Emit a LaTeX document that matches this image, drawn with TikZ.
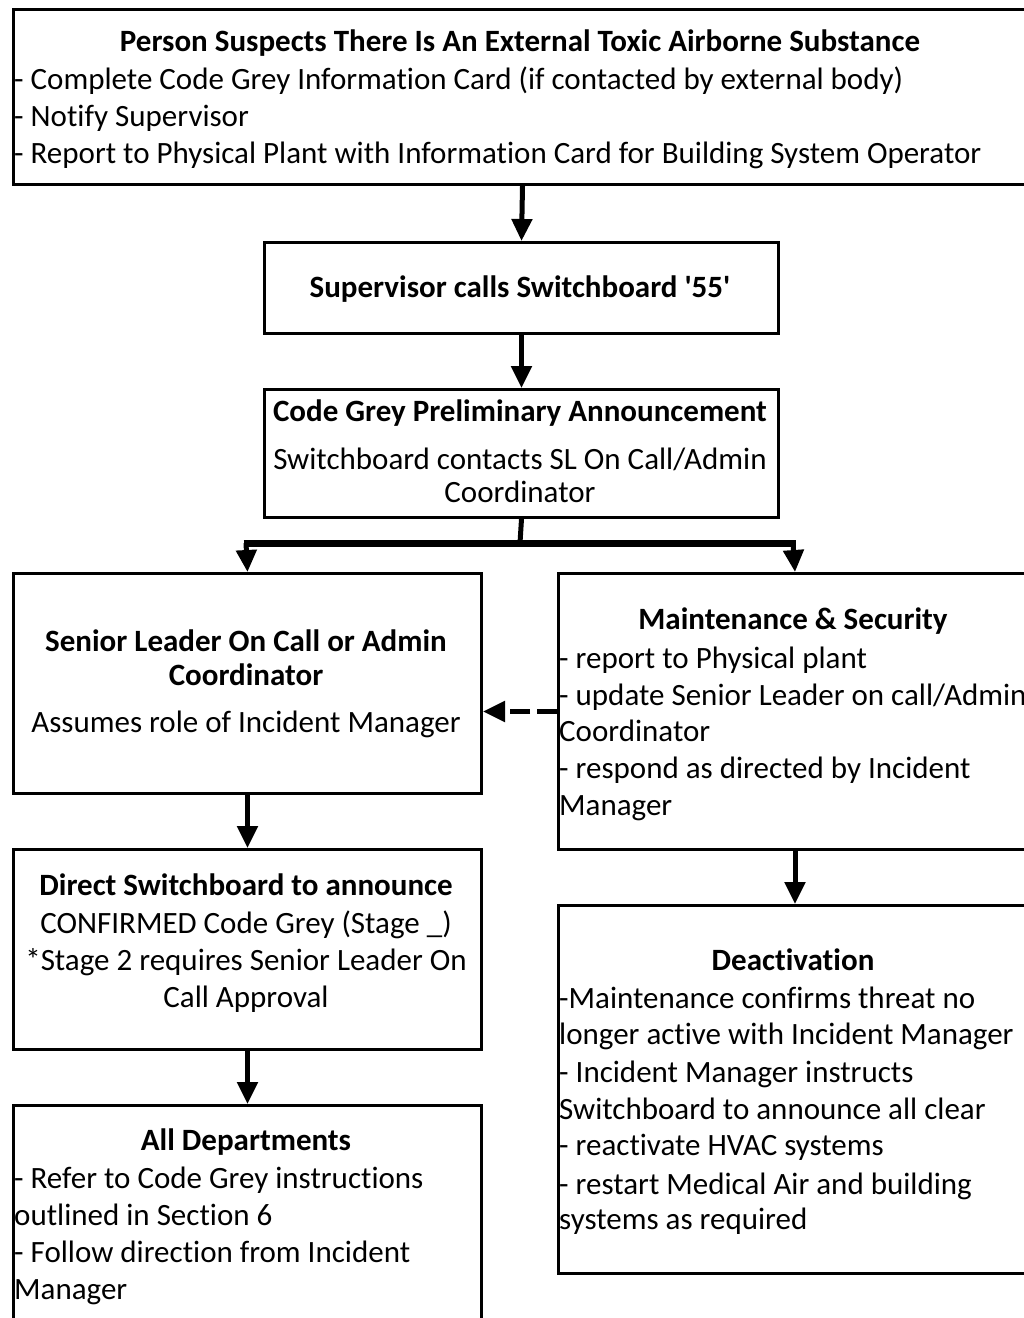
\documentclass[tikz,border=0pt]{standalone}
\usepackage{fontspec}
\setmainfont[Ligatures=NoCommon]{Carlito}
\newfontfamily\qfont[Ligatures={NoCommon,TeXOff}]{Carlito}
\usetikzlibrary{arrows.meta}
\begin{document}
\begin{tikzpicture}[x=1pt,y=-1pt,
  box/.style={draw=black, line width=3pt, inner sep=0pt, anchor=north west},
  txt/.style={inner sep=0pt, font=\fontsize{31}{37}\selectfont, text height=22pt, text depth=7pt},
  ttl/.style={txt, font=\fontsize{31}{37}\selectfont\bfseries},
  lft/.style={txt, anchor=west},
  arr/.style={line width=5pt, -{Triangle[width=20pt,length=22pt]}},
  darr/.style={line width=5pt, dash pattern=on 20pt off 7pt, -{Triangle[width=20pt,length=22pt]}},
]
\useasboundingbox (0,0) rectangle (1024,1318);
\clip (0,0) rectangle (1024,1318);
\fill[white] (0,0) rectangle (1024,1318);

% boxes
\node[box, minimum width=1018pt, minimum height=175pt] (b1) at (12,8) {};
\node[box, minimum width=514pt, minimum height=91pt] (b2) at (263,241) {};
\node[box, minimum width=514pt, minimum height=128pt] (b3) at (263,388) {};
\node[box, minimum width=468pt, minimum height=220pt] (b4) at (12,572) {};
\node[box, minimum width=473pt, minimum height=276pt] (b5) at (557,572) {};
\node[box, minimum width=468pt, minimum height=200pt] (b6) at (12,848) {};
\node[box, minimum width=473pt, minimum height=368pt] (b8) at (557,904) {};
\node[box, minimum width=468pt, minimum height=230pt] (b7) at (12,1104) {};

% texts box 1
\node[ttl] (t1a) at (520,44) {Person Suspects There Is An External Toxic Airborne Substance};
\node[lft] (t1b) at (14,82) {- Complete Code Grey Information Card (if contacted by external body)};
\node[lft] (t1c) at (14,119) {- Notify Supervisor};
\node[lft] (t1d) at (14,156) {- Report to Physical Plant with Information Card for Building System Operator};

% box 2
\node[ttl] (t2) at (520,290) {\qfont\bfseries Supervisor calls Switchboard '55'};

% box 3
\node[ttl] (t3a) at (520,414) {Code Grey Preliminary Announcement};
\node[txt] (t3b) at (520,462) {Switchboard contacts SL On Call/Admin};
\node[txt] (t3c) at (520,495) {Coordinator};

% box 4
\node[ttl] (t4a) at (246,644) {Senior Leader On Call or Admin};
\node[ttl] (t4b) at (246,678) {Coordinator};
\node[txt] (t4c) at (246,725) {Assumes role of Incident Manager};

% box 5
\node[ttl] (t5a) at (793,622) {Maintenance \& Security};
\node[lft] (t5b) at (559,661) {- report to Physical plant};
\node[lft] (t5c) at (559,698) {- update Senior Leader on call/Admin};
\node[lft] (t5d) at (559,734) {Coordinator};
\node[lft] (t5e) at (559,771) {- respond as directed by Incident};
\node[lft] (t5f) at (559,808) {Manager};

% box 6
\node[ttl] (t6a) at (246,888) {Direct Switchboard to announce};
\node[txt] (t6b) at (246,926) {CONFIRMED Code Grey (Stage \_)};
\node[txt] (t6c) at (246,963) {*Stage 2 requires Senior Leader On};
\node[txt] (t6d) at (246,1000) {Call Approval};

% box 7
\node[ttl] (t7a) at (246,1143) {All Departments};
\node[lft] (t7b) at (14,1181) {- Refer to Code Grey instructions};
\node[lft] (t7c) at (14,1218) {outlined in Section 6};
\node[lft] (t7d) at (14,1255) {- Follow direction from Incident};
\node[lft] (t7e) at (14,1292) {Manager};

% box 8
\node[ttl] (t8a) at (793,963) {Deactivation};
\node[lft] (t8b) at (559,1001) {-Maintenance confirms threat no};
\node[lft] (t8c) at (559,1037) {longer active with Incident Manager};
\node[lft] (t8d) at (559,1075) {- Incident Manager instructs};
\node[lft] (t8e) at (559,1112) {Switchboard to announce all clear};
\node[lft] (t8f) at (559,1148) {- reactivate HVAC systems};
\node[lft] (t8g) at (559,1187) {- restart Medical Air and building};
\node[lft] (t8h) at (559,1222) {systems as required};

% connectors
\coordinate (sp) at (520,543);
\coordinate (spl) at (246,543);
\coordinate (spr) at (793,543);
\draw[arr] (b1.south) -- (b2.north);
\draw[arr] (b2.south) -- (b3.north);
\draw[line width=5pt] (b3.south) -- (sp);
\draw[line width=7pt] ([xshift=-2.5pt]spl) -- ([xshift=2.5pt]spr);
\draw[arr] (spl) -- (b4.north);
\draw[arr] (spr) -- (b5.north);
\draw[darr] (b5.west) -- (b4.east |- b5.west);
\draw[arr] (b4.south) -- (b6.north);
\draw[arr] (b6.south) -- (b7.north);
\draw[arr] (b5.south) -- (b8.north);
\end{tikzpicture}
\end{document}
